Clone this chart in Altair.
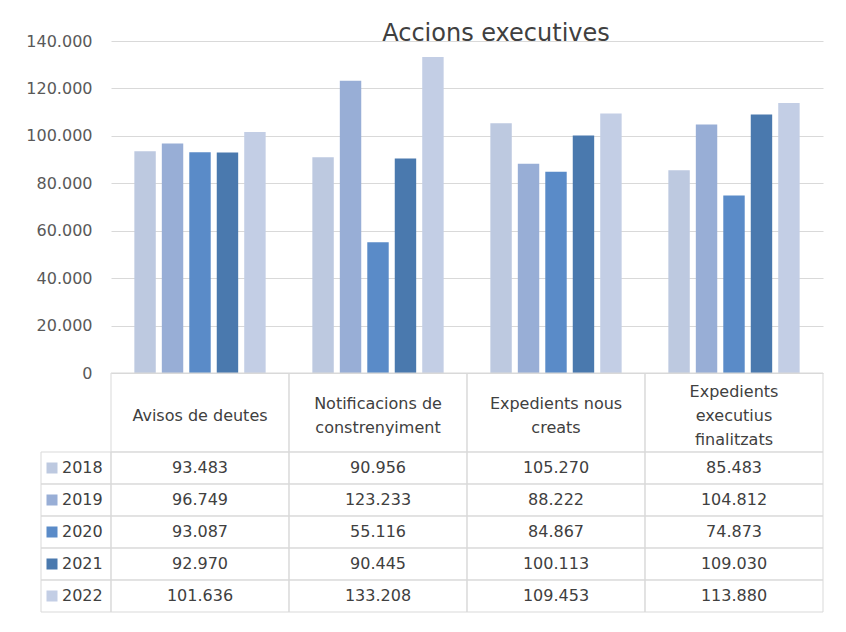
import altair as alt
import pandas as pd

# ---- data ----
categories = [
    "Avisos de deutes",
    "Notificacions de constrenyiment",
    "Expedients nous creats",
    "Expedients executius finalitzats",
]
header_labels = [
    "Avisos de deutes",
    "Notificacions de\nconstrenyiment",
    "Expedients nous\ncreats",
    "Expedients\nexecutius\nfinalitzats",
]
years = ["2018", "2019", "2020", "2021", "2022"]
values_2018 = [93483, 90956, 105270, 85483]
values_2019 = [96749, 123233, 88222, 104812]
values_2020 = [93087, 55116, 84867, 74873]
values_2021 = [92970, 90445, 100113, 109030]
values_2022 = [101636, 133208, 109453, 113880]
y_ticks = [0, 20000, 40000, 60000, 80000, 100000, 120000, 140000]

year_colors = ["#BDC9E0", "#98AED6", "#5A8BC8", "#4A79AE", "#C3CEE5"]
title_text = "Accions executives"

series = {
    "2018": values_2018,
    "2019": values_2019,
    "2020": values_2020,
    "2021": values_2021,
    "2022": values_2022,
}
df = pd.DataFrame(
    [
        {"categoria": c, "any": y, "valor": v}
        for y in years
        for c, v in zip(categories, series[y])
    ]
)
# one row per header line (k = line index, n = number of lines in that cell)
hdr_rows = []
for c, lab in zip(categories, header_labels):
    parts = lab.split("\n")
    for k, part in enumerate(parts):
        hdr_rows.append({"categoria": c, "linia": part, "k": k, "n": len(parts)})
hdr = pd.DataFrame(hdr_rows)
hdr_cells = pd.DataFrame({"categoria": categories})
yrs = pd.DataFrame({"any": years})
blank = pd.DataFrame({"a": [0]})

FONT = "DejaVu Sans"
GRID = "#d9d9d9"
TEXT = "#404040"
DOTS = "replace(format({v}, ',d'), ',', '.')"
HEADER_H = 79
LINE_H = 24
NO_FRAME = alt.ViewBackground(strokeOpacity=0, strokeWidth=0)

x_enc = alt.X(
    "categoria:N",
    sort=categories,
    scale=alt.Scale(paddingInner=0, paddingOuter=0),
    axis=None,
)

bars = (
    alt.Chart(df)
    .mark_bar()
    .encode(
        x=x_enc,
        xOffset=alt.XOffset(
            "any:N",
            sort=years,
            scale=alt.Scale(paddingInner=0.22, paddingOuter=0.85),
        ),
        y=alt.Y(
            "valor:Q",
            scale=alt.Scale(domain=[0, 140000], nice=False),
            axis=alt.Axis(
                values=y_ticks,
                labelExpr=DOTS.format(v="datum.value"),
                grid=True,
                gridColor=GRID,
                domain=False,
                ticks=False,
                labelFont=FONT,
                labelFontSize=16,
                labelColor="#595959",
                labelPadding=19,
                title=None,
            ),
        ),
        color=alt.Color(
            "any:N",
            sort=years,
            scale=alt.Scale(domain=years, range=year_colors),
            legend=alt.Legend(
                orient="none",
                legendX=3,
                legendY=411,
                title=None,
                symbolType="square",
                symbolSize=121,
                symbolStrokeWidth=0,
                labelFont=FONT,
                labelFontSize=16,
                labelColor=TEXT,
                clipHeight=32,
                rowPadding=0,
                labelOffset=2,
                padding=0,
            ),
        ),
    )
    .properties(
        width=712,
        height=332,
        view=NO_FRAME,
        title=alt.TitleParams(
            title_text,
            font=FONT,
            fontSize=24,
            fontWeight="normal",
            color=TEXT,
            anchor="middle",
            frame="group",
            dx=29,
            dy=13,
            offset=0,
        ),
    )
)

half = HEADER_H / 2 / LINE_H
header_chart = alt.layer(
    alt.Chart(hdr_cells)
    .mark_rect(fill="transparent", stroke=GRID, strokeWidth=1)
    .encode(x=x_enc),
    alt.Chart(hdr)
    .transform_calculate(pos="(datum.n - 1) / 2 - datum.k")
    .mark_text(font=FONT, fontSize=16, color=TEXT, baseline="middle", dy=3)
    .encode(
        x=x_enc,
        y=alt.Y("pos:Q", scale=alt.Scale(domain=[-half, half], nice=False, zero=False), axis=None),
        text="linia:N",
    ),
).properties(width=712, height=HEADER_H, view=NO_FRAME)

y_rows = alt.Y(
    "any:N", sort=years, scale=alt.Scale(paddingInner=0, paddingOuter=0), axis=None
)
body_base = alt.Chart(df).encode(x=x_enc, y=y_rows)
body_chart = alt.layer(
    body_base.mark_rect(fill="transparent", stroke=GRID, strokeWidth=1),
    body_base.transform_calculate(txt=DOTS.format(v="datum.valor"))
    .mark_text(font=FONT, fontSize=16, color=TEXT, baseline="middle")
    .encode(text="txt:N"),
).properties(width=712, height=160, view=NO_FRAME)

legend_col = (
    alt.Chart(yrs)
    .mark_rect(fill="transparent", stroke=GRID, strokeWidth=1)
    .encode(y=y_rows)
    .properties(width=70, height=160, view=NO_FRAME)
)

spacer_top = alt.Chart(blank).mark_text(text="").properties(width=70, height=332, view=NO_FRAME)
spacer_mid = alt.Chart(blank).mark_text(text="").properties(width=70, height=HEADER_H, view=NO_FRAME)

chart = (
    alt.concat(
        spacer_top, bars, spacer_mid, header_chart, legend_col, body_chart,
        columns=2, spacing=0, bounds="flush",
    )
    .properties(padding={"left": 17, "top": 14, "right": 5, "bottom": 5})
    .configure_view(strokeOpacity=0, strokeWidth=0)
    .configure(font=FONT)
)

chart.save("out.html", embed_options={"renderer": "svg", "actions": False})
